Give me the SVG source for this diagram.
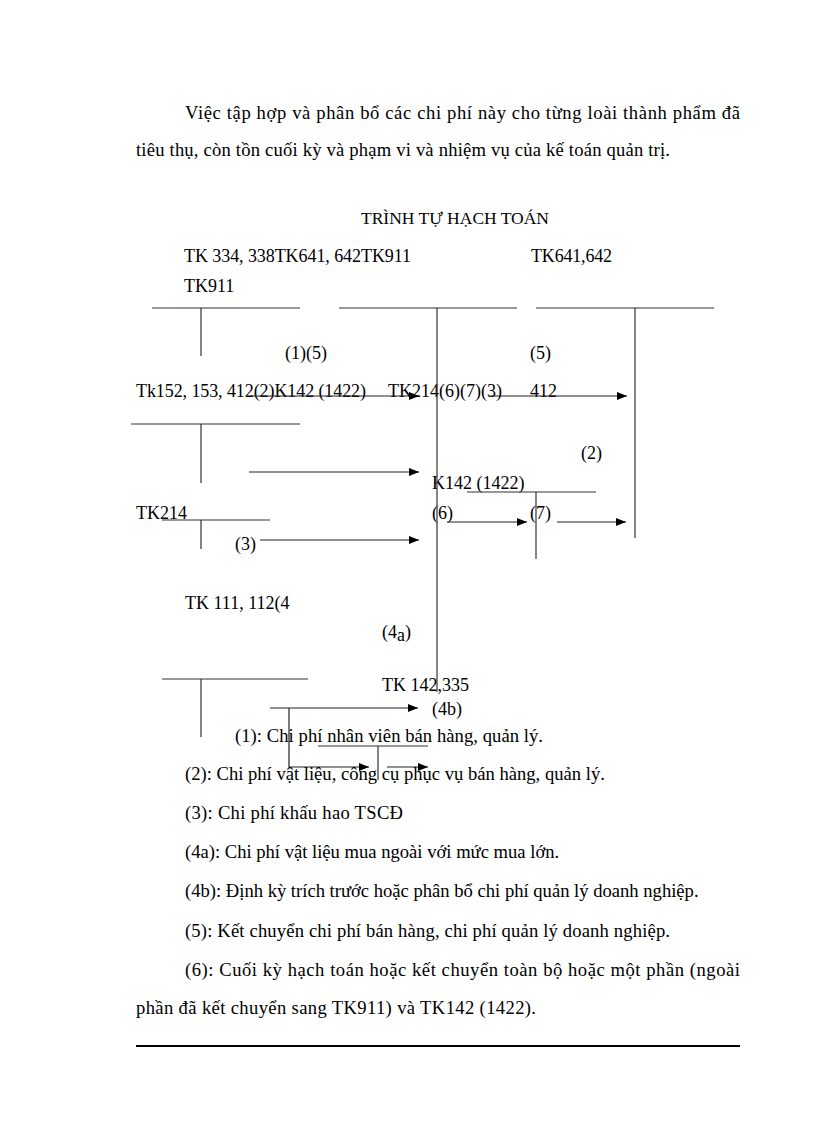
<svg xmlns="http://www.w3.org/2000/svg" width="816" height="1123" viewBox="0 0 816 1123">
<style>
text{font-family:"Liberation Serif","Times New Roman",serif;fill:#000;font-size:18.6px}
.d{font-size:18px}
.t{stroke:#333;stroke-width:1.2;fill:none}
.c{stroke:#222;stroke-width:1.2;fill:none;marker-end:url(#ah)}
</style>
<defs>
<marker id="ah" viewBox="0 0 10 8" refX="10" refY="4" markerWidth="10" markerHeight="8" markerUnits="userSpaceOnUse" orient="auto">
<path d="M0,0 L10,4 L0,8 Z" fill="#000"/>
</marker>
</defs>
<rect width="816" height="1123" fill="#fff"/>
<g id="intro">
<text x="185" y="119" textLength="555">Việc tập hợp và phân bổ các chi phí này cho từng loài thành phẩm đã</text>
<text x="136" y="156" textLength="534">tiêu thụ, còn tồn cuối kỳ và phạm vi và nhiệm vụ của kế toán quản trị.</text>
</g>
<text x="361" y="224" class="d" textLength="188" style="font-size:17.5px">TRÌNH TỰ HẠCH TOÁN</text>
<g id="labels" class="d">
<text class="d" x="184" y="262" textLength="227">TK 334, 338TK641, 642TK911</text>
<text class="d" x="531" y="262" textLength="81">TK641,642</text>
<text class="d" x="184" y="292">TK911</text>
<text class="d" x="285" y="359">(1)(5)</text>
<text class="d" x="530" y="359">(5)</text>
<text class="d" x="136" y="397" textLength="230">Tk152, 153, 412(2)K142 (1422)</text>
<text class="d" x="388" y="397" textLength="114">TK214(6)(7)(3)</text>
<text class="d" x="530" y="397">412</text>
<text class="d" x="581" y="459">(2)</text>
<text class="d" x="432" y="489">K142 (1422)</text>
<text class="d" x="136" y="519">TK214</text>
<text class="d" x="432" y="519">(6)</text>
<text class="d" x="530" y="519">(7)</text>
<text class="d" x="235" y="550">(3)</text>
<text class="d" x="185" y="609">TK 111, 112(4</text>
<text class="d" x="382" y="638">(4<tspan dy="3">a</tspan><tspan dy="-3">)</tspan></text>
<text class="d" x="382" y="691">TK 142,335</text>
<text class="d" x="432" y="715">(4b)</text>
</g>
<g id="node-tk334">
<line class="t" x1="152" y1="308" x2="300" y2="308"/>
<line class="t" x1="201" y1="308" x2="201" y2="356"/>
</g>
<g id="node-tk641-642">
<line class="t" x1="339" y1="308" x2="517" y2="308"/>
<line class="t" x1="437" y1="308" x2="437" y2="692"/>
</g>
<g id="node-tk911">
<line class="t" x1="536" y1="308" x2="714" y2="308"/>
<line class="t" x1="635" y1="308" x2="635" y2="538"/>
</g>
<g id="node-tk152">
<line class="t" x1="131" y1="424" x2="300" y2="424"/>
<line class="t" x1="201" y1="424" x2="201" y2="483"/>
</g>
<g id="node-k142">
<line class="t" x1="467" y1="492" x2="596" y2="492"/>
<line class="t" x1="536" y1="492" x2="536" y2="559"/>
</g>
<g id="node-tk214">
<line class="t" x1="162" y1="520" x2="270" y2="520"/>
<line class="t" x1="201" y1="520" x2="201" y2="549"/>
</g>
<g id="node-tk111">
<line class="t" x1="162" y1="679" x2="308" y2="679"/>
<line class="t" x1="201" y1="679" x2="201" y2="737"/>
</g>
<g id="node-tk142-335">
<line class="t" x1="318" y1="746" x2="428" y2="746"/>
<line class="t" x1="378" y1="746" x2="378" y2="780"/>
</g>
<g id="connectors">
<path class="c" d="M251,396 H419"/>
<path class="c" d="M489,396 H627"/>
<path class="c" d="M249,472 H419"/>
<path class="c" d="M447,522 H527"/>
<path class="c" d="M557,522 H626"/>
<path class="c" d="M260,540 H419"/>
<path class="c" d="M270,708 H418"/>
<path class="c" d="M289,708 V767 H369"/>
<path class="c" d="M387,767 H428"/>
</g>
<g id="legend">
<text x="235" y="742" textLength="308">(1): Chi phí nhân viên bán hàng, quản lý.</text>
<text x="185" y="780">(2): Chi phí vật liệu, công cụ phục vụ bán hàng, quản lý.</text>
<text x="185" y="819" textLength="218">(3): Chi phí khấu hao TSCĐ</text>
<text x="185" y="858">(4a): Chi phí vật liệu mua ngoài với mức mua lớn.</text>
<text x="185" y="897">(4b): Định kỳ trích trước hoặc phân bổ chi phí quản lý doanh nghiệp.</text>
<text x="185" y="937" textLength="485">(5): Kết chuyển chi phí bán hàng, chi phí quản lý doanh nghiệp.</text>
<text x="185" y="976" textLength="555">(6): Cuối kỳ hạch toán hoặc kết chuyển toàn bộ hoặc một phần (ngoài</text>
<text x="136" y="1014" textLength="400">phần đã kết chuyển sang TK911) và TK142 (1422).</text>
</g>
<line x1="136" y1="1046" x2="740" y2="1046" stroke="#000" stroke-width="2"/>
</svg>
